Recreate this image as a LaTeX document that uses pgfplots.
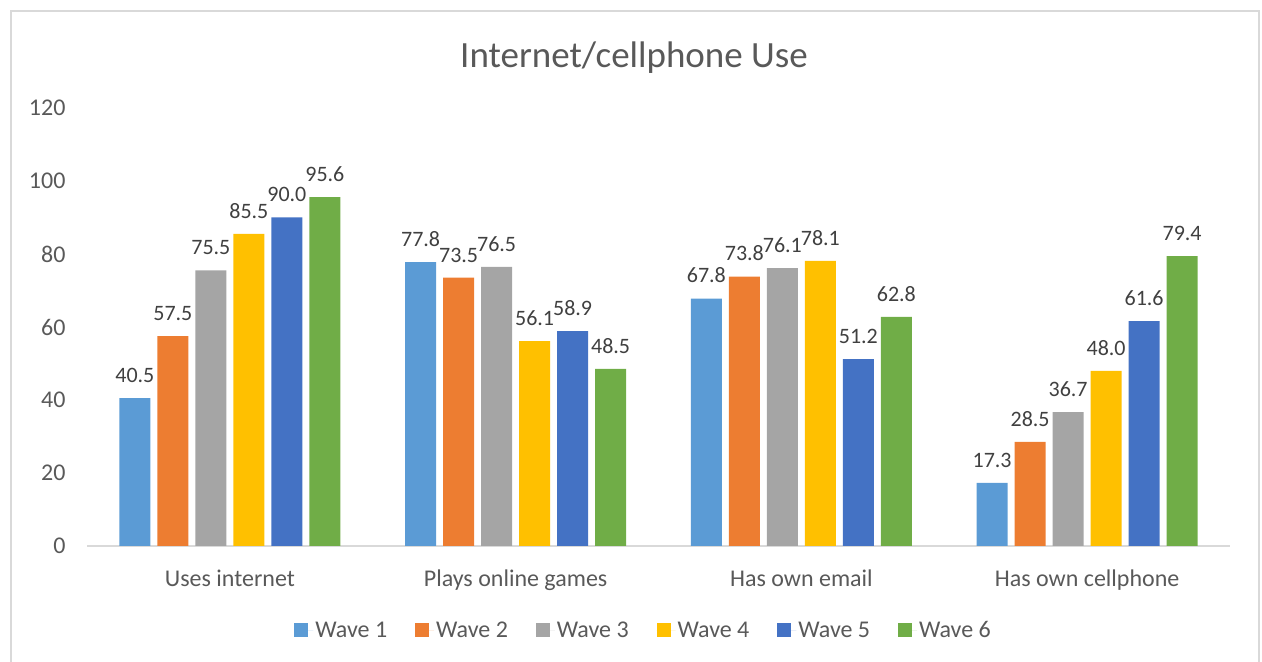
\documentclass[border=0pt]{standalone}
\usepackage{pgfplots}
\pgfplotsset{compat=1.18}
\usepackage{fontspec}
\setmainfont{Carlito}
\definecolor{w1}{HTML}{5B9BD5}
\definecolor{w2}{HTML}{ED7D31}
\definecolor{w3}{HTML}{A5A5A5}
\definecolor{w4}{HTML}{FFC000}
\definecolor{w5}{HTML}{4472C4}
\definecolor{w6}{HTML}{70AD47}
\definecolor{txt}{HTML}{595959}
\definecolor{lbl}{HTML}{404040}
\definecolor{frame}{HTML}{D9D9D9}
\pgfplotstableread{
x w1 w2 w3 w4 w5 w6
0 40.5 57.5 75.5 85.5 90.0 95.6
1 77.8 73.5 76.5 56.1 58.9 48.5
2 67.8 73.8 76.1 78.1 51.2 62.8
3 17.3 28.5 36.7 48.0 61.6 79.4
}\datatable
\begin{document}
\begin{tikzpicture}
\useasboundingbox (0,0) rectangle (1262bp,662bp);
\draw[frame, line width=1.5bp] (11bp,-5bp) -- (11bp,651bp) -- (1259bp,651bp) -- (1259bp,-5bp);
\node[text=txt, font=\fontsize{37bp}{42bp}\selectfont] at (634bp,604bp) {Internet/cellphone Use};
\begin{axis}[
  at={(87bp,116bp)}, anchor=south west,
  scale only axis, width=1143bp, height=438bp,
  ybar=7bp, bar width=31bp,
  xmin=-0.5, xmax=3.5, ymin=0, ymax=120,
  ytick={0,20,...,120},
  xtick=data,
  xticklabels={Uses internet, Plays online games, Has own email, Has own cellphone},
  axis lines*=left,
  x axis line style={draw=frame, line width=1.5bp},
  y axis line style={draw=none},
  major tick length=0pt,
  /pgf/number format/assume math mode=true,
  tick label style={text=txt, font=\fontsize{24bp}{28bp}\selectfont},
  yticklabel style={xshift=-18bp},
  xticklabel style={yshift=-20bp},
  nodes near coords={\pgfmathprintnumber[fixed,fixed zerofill,precision=1]{\pgfplotspointmeta}},
  every node near coord/.append style={text=lbl, font=\fontsize{22bp}{26bp}\selectfont, yshift=12bp},
  legend columns=6,
  legend style={at={(0.487,-0.192)}, anchor=center, draw=none, fill=none,
    font=\fontsize{24bp}{28bp}\selectfont, text=txt,
    /tikz/every even column/.append style={column sep=26bp}},
  legend image code/.code={\path (0bp,0bp) -- (19bp,0bp);\fill[#1] (0bp,-7bp) rectangle (14bp,7bp);},
]
\addplot[fill=w1, draw=none] table[x=x,y=w1]{\datatable};
\addplot[fill=w2, draw=none] table[x=x,y=w2]{\datatable};
\addplot[fill=w3, draw=none] table[x=x,y=w3]{\datatable};
\addplot[fill=w4, draw=none] table[x=x,y=w4]{\datatable};
\addplot[fill=w5, draw=none] table[x=x,y=w5]{\datatable};
\addplot[fill=w6, draw=none] table[x=x,y=w6]{\datatable};
\legend{Wave 1, Wave 2, Wave 3, Wave 4, Wave 5, Wave 6}
\end{axis}
\end{tikzpicture}
\end{document}
